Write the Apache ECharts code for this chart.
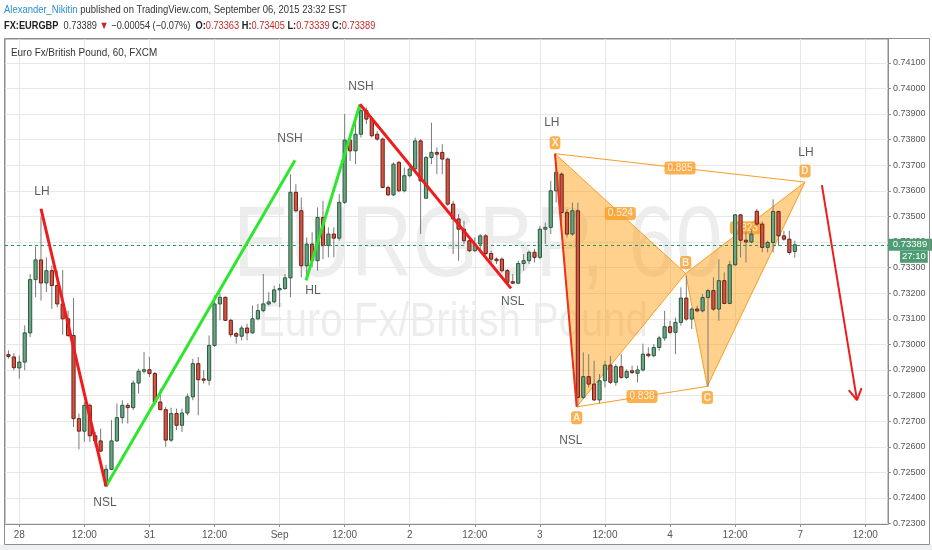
<!DOCTYPE html>
<html><head><meta charset="utf-8">
<script src="https://cdn.jsdelivr.net/npm/echarts@6/dist/echarts.min.js"></script>
<style>html,body{margin:0;padding:0;background:#fff}#c{width:932px;height:550px}</style>
</head><body><div id="c"></div>
<script>
// ---- candle data (hourly bars, index 0 = 27 Aug 22:00) ----
const opens = [
0.72960,0.72951,0.72908,0.72931,0.73045,0.73253,0.73330,0.73240,0.73288,0.73230,
0.73158,0.73100,0.73035,0.72710,0.72661,0.72762,0.72643,0.72623,0.72447,0.72512,
0.72623,0.72714,0.72762,0.72753,0.72849,0.72895,0.72901,0.72886,0.72775,0.72745,
0.72626,0.72730,0.72684,0.72732,0.72795,0.72925,0.72865,0.72860,0.72996,0.73158,
0.73184,0.73094,0.73042,0.73032,0.73064,0.73045,0.73100,0.73132,0.73158,0.73166,
0.73213,0.73218,0.73260,0.73594,0.73522,0.73307,0.73392,0.73327,0.73496,0.73386,
0.73431,0.73415,0.73555,0.73798,0.73756,0.73821,0.73913,0.73880,0.73821,0.73802,
0.73613,0.73584,0.73711,0.73600,0.73659,0.73685,0.73795,0.73571,0.73730,0.73750,
0.73750,0.73724,0.73548,0.73490,0.73450,0.73405,0.73366,0.73392,0.73424,0.73355,
0.73333,0.73333,0.73288,0.73245,0.73239,0.73316,0.73327,0.73360,0.73340,0.73450,
0.73457,0.73600,0.73665,0.73515,0.73431,0.73522,0.72793,0.72874,0.72845,0.72783,
0.72858,0.72919,0.72852,0.72913,0.72871,0.72897,0.72887,0.72900,0.72962,0.72956,
0.72988,0.73025,0.73069,0.73047,0.73086,0.73181,0.73099,0.73138,0.73131,0.73183,
0.73210,0.73138,0.73249,0.73160,0.73311,0.73506,0.73407,0.73400,0.73520,0.73470,
0.73379,0.73398,0.73519,0.73424,0.73411,0.73363];
const highs = [
0.72977,0.72966,0.72957,0.73074,0.73275,0.73382,0.73500,0.73340,0.73308,0.73288,
0.73291,0.73132,0.73181,0.72730,0.72775,0.72769,0.72658,0.72671,0.72529,0.72704,
0.72769,0.72782,0.72771,0.72860,0.72905,0.72970,0.72951,0.72892,0.72827,0.72756,
0.72753,0.72749,0.72749,0.72808,0.72944,0.72951,0.72899,0.73035,0.73191,0.73200,
0.73187,0.73100,0.73048,0.73074,0.73081,0.73152,0.73158,0.73275,0.73204,0.73230,
0.73236,0.73275,0.73665,0.73626,0.73574,0.73418,0.73438,0.73535,0.73561,0.73457,
0.73457,0.73587,0.73900,0.73802,0.73873,0.73936,0.73926,0.73887,0.73834,0.73808,
0.73620,0.73711,0.73717,0.73691,0.73698,0.73808,0.73802,0.73737,0.73866,0.73769,
0.73782,0.73730,0.73561,0.73509,0.73483,0.73418,0.73418,0.73431,0.73431,0.73366,
0.73340,0.73340,0.73294,0.73275,0.73327,0.73353,0.73366,0.73373,0.73463,0.73476,
0.73639,0.73704,0.73672,0.73528,0.73554,0.73554,0.72969,0.72962,0.72936,0.72884,
0.72936,0.72955,0.72923,0.72962,0.72903,0.72917,0.72917,0.73003,0.72988,0.73001,
0.73034,0.73131,0.73092,0.73105,0.73223,0.73268,0.73144,0.73151,0.73197,0.73216,
0.73262,0.73333,0.73281,0.73327,0.73509,0.73509,0.73440,0.73450,0.73529,0.73480,
0.73405,0.73567,0.73522,0.73444,0.73444,0.73405];
const lows = [
0.72944,0.72899,0.72866,0.72899,0.73029,0.73184,0.73171,0.73204,0.73139,0.73145,
0.73038,0.73029,0.72678,0.72590,0.72619,0.72619,0.72600,0.72581,0.72444,0.72509,
0.72619,0.72691,0.72691,0.72743,0.72808,0.72886,0.72873,0.72762,0.72743,0.72600,
0.72619,0.72665,0.72658,0.72723,0.72782,0.72723,0.72847,0.72840,0.72990,0.73094,
0.73091,0.73029,0.73003,0.73016,0.73016,0.73042,0.73094,0.73126,0.73152,0.73161,
0.73145,0.73213,0.73184,0.73515,0.73262,0.73255,0.73301,0.73288,0.73333,0.73340,
0.73340,0.73405,0.73548,0.73717,0.73704,0.73808,0.73860,0.73808,0.73795,0.73613,
0.73580,0.73580,0.73594,0.73594,0.73652,0.73678,0.73431,0.73574,0.73704,0.73665,
0.73665,0.73542,0.73353,0.73327,0.73392,0.73360,0.73360,0.73366,0.73340,0.73314,
0.73314,0.73281,0.73235,0.73235,0.73235,0.73288,0.73314,0.73320,0.73333,0.73392,
0.73431,0.73554,0.73480,0.73418,0.73424,0.72754,0.72787,0.72832,0.72780,0.72767,
0.72832,0.72845,0.72839,0.72865,0.72865,0.72884,0.72852,0.72894,0.72949,0.72949,
0.72975,0.73014,0.73040,0.72962,0.73073,0.73092,0.73060,0.73125,0.73125,0.72834,
0.73131,0.73092,0.73157,0.73157,0.73307,0.73340,0.73320,0.73395,0.73463,0.73360,
0.73359,0.73359,0.73385,0.73405,0.73350,0.73339];
const closes = [
0.72953,0.72909,0.72931,0.73045,0.73253,0.73330,0.73240,0.73288,0.73230,0.73158,
0.73100,0.73035,0.72710,0.72661,0.72762,0.72643,0.72623,0.72583,0.72512,0.72623,
0.72714,0.72762,0.72753,0.72849,0.72895,0.72901,0.72886,0.72775,0.72745,0.72626,
0.72730,0.72684,0.72732,0.72795,0.72925,0.72862,0.72860,0.72996,0.73158,0.73184,
0.73094,0.73038,0.73032,0.73064,0.73045,0.73100,0.73132,0.73158,0.73166,0.73213,
0.73218,0.73260,0.73594,0.73522,0.73307,0.73392,0.73327,0.73496,0.73386,0.73431,
0.73415,0.73555,0.73798,0.73756,0.73821,0.73913,0.73880,0.73815,0.73802,0.73613,
0.73584,0.73704,0.73600,0.73659,0.73685,0.73795,0.73639,0.73730,0.73750,0.73743,
0.73724,0.73548,0.73490,0.73450,0.73405,0.73366,0.73392,0.73424,0.73355,0.73333,
0.73327,0.73288,0.73242,0.73239,0.73316,0.73327,0.73360,0.73340,0.73450,0.73457,
0.73600,0.73672,0.73515,0.73431,0.73522,0.72793,0.72874,0.72845,0.72783,0.72858,
0.72919,0.72852,0.72913,0.72871,0.72894,0.72890,0.72900,0.72962,0.72956,0.72988,
0.73025,0.73069,0.73047,0.73086,0.73181,0.73099,0.73138,0.73131,0.73183,0.73210,
0.73138,0.73249,0.73160,0.73311,0.73506,0.73407,0.73400,0.73431,0.73470,0.73379,
0.73398,0.73519,0.73424,0.73411,0.73359,0.73389];

// ---- axes ----
const xTickBars = [2,14,26,38,50,62,74,86,98,110,122,134,146,158];
const xTickLabels = ['28','12:00','31','12:00','Sep','12:00','2','12:00','3','12:00','4','12:00','7','12:00'];
const yTicks = [0.723,0.724,0.725,0.726,0.727,0.728,0.729,0.730,0.731,0.732,0.733,0.734,0.735,0.736,0.737,0.738,0.739,0.740,0.741];
const lastPrice = 0.73389;
const countdown = '27:10';

// ---- drawings (bar index, price) ----
const redSwings = [
  [[6.0,0.73530],[17.99,0.72446]],
  [[64.83,0.73938],[92.67,0.73219]]
];
const greenSwings = [
  [[17.99,0.72446],[52.84,0.73719]],
  [[54.87,0.73250],[64.83,0.73938]]
];
const swingLabels = ['LH','NSL','NSH','HL','NSH','NSL','LH','NSL','LH'];
const swingLabelPos = [[6.19,0.73598],[17.8,0.72383],[51.92,0.73802],[56.16,0.73211],[65.0,0.74008],[93.0,0.73167],[100.2,0.73866],[103.7,0.72625],[147.07,0.73749]];
const patNames = ['X','A','B','C','D'];
const patPoints = [[100.78,0.73745],[104.78,0.72756],[124.88,0.73277],[128.87,0.72836],[146.88,0.73634]];
const patRatioLabels = ['0.524','0.838','0.823','0.885'];
const patRatioPairs = [[0,2],[1,3],[2,4],[0,4]];
const patRatioUnderCandles = [false,false,true,false];
const arrowLine = [[150.0,0.73622],[156.47,0.72782]];
const arrowHead = [[154.96,0.72821],[156.47,0.72782],[157.32,0.72829]];

const UP='#6ba583', UPB='#2a5a3e', DN='#d75442', DNB='#6b2118', WICK='#7a7a7c';
const ORANGE='#f99d26';
const FONT = "'Liberation Sans',Arial,sans-serif";

const candleData = opens.map((o,i)=>[i,o,highs[i],lows[i],closes[i]]);

function ratioSeries(under){
  return {type:'scatter', z: under?2:6, silent:true, symbolSize:1, itemStyle:{color:'rgba(0,0,0,0)'},
    data: patRatioLabels.map((t,k)=>{
      if (patRatioUnderCandles[k]!==under) return null;
      const a=patPoints[patRatioPairs[k][0]], b=patPoints[patRatioPairs[k][1]];
      return {name:t, value:[(a[0]+b[0])/2,(a[1]+b[1])/2]};
    }).filter(d=>d),
    label:{show:true, position:'inside', formatter:'{b}', color:'#fff', fontSize:10, fontFamily:FONT,
      backgroundColor:ORANGE, borderRadius:3, padding:[2,3,1,3]}
  };
}

const series = [];
// harmonic triangles
series.push({
  type:'custom', z:1, silent:true, clip:true,
  encode:{x:0,y:1},
  data:[[patPoints[0][0],patPoints[0][1],0],[patPoints[2][0],patPoints[2][1],1]],
  renderItem(params, api){
    const tri = params.dataIndex===0 ? [0,1,2] : [2,3,4];
    const pts = tri.map(k=>api.coord(patPoints[k]));
    return {type:'polygon', shape:{points:pts}, style:{fill:'rgba(255,152,0,0.45)', stroke:ORANGE, lineWidth:1}};
  }
});
series.push(ratioSeries(true));
// candles
series.push({
  type:'custom', z:3, silent:true, clip:true,
  encode:{x:0,y:[1,2,3,4]},
  data:candleData,
  renderItem(params, api){
    const i=api.value(0), o=api.value(1), h=api.value(2), l=api.value(3), c=api.value(4);
    const pO=api.coord([i,o]), pC=api.coord([i,c]), pH=api.coord([i,h]), pL=api.coord([i,l]);
    const up = c>=o;
    const cx = pO[0];
    const top=Math.min(pO[1],pC[1]), bot=Math.max(pO[1],pC[1]);
    return {type:'group', children:[
      {type:'line', shape:{x1:cx,y1:pH[1],x2:cx,y2:pL[1]}, style:{stroke:WICK,lineWidth:1}},
      {type:'rect', shape:{x:cx-1.6,y:top,width:3.2,height:Math.max(bot-top,1)}, style:{fill:up?UP:DN, stroke:up?UPB:DNB, lineWidth:1}}
    ]};
  }
});
// pattern lines XD and AC
[[0,4],[1,3]].forEach(p=>{
  series.push({type:'line', z:4, silent:true, symbol:'none', data:[patPoints[p[0]],patPoints[p[1]]], lineStyle:{color:ORANGE,width:1}});
});
// green swings
greenSwings.forEach(seg=>series.push({type:'line', z:5, silent:true, symbol:'none', data:seg, lineStyle:{color:'#2ee62e',width:3}}));
// red swings (first one also carries the last-price line)
redSwings.forEach((seg,k)=>series.push({type:'line', z:5, silent:true, symbol:'none', data:seg, lineStyle:{color:'#ee1c1c',width:3},
  markLine: k===0 ? {
    silent:true, symbol:['none','none'], animation:false, precision:5,
    data:[{yAxis:lastPrice}],
    lineStyle:{color:'#1f9a5c', type:[3,3], width:1},
    label:{show:true, position:'end', distance:0,
      formatter:'{e|}\n{p|'+lastPrice.toFixed(5)+'}\n{s|}{t|'+countdown+'}',
      rich:{
        e:{height:12, lineHeight:12},
        p:{backgroundColor:'#4e9c74', color:'#fff', fontSize:9.5, fontFamily:FONT, width:40, height:12, lineHeight:12, align:'center', padding:[0,2]},
        s:{width:12, height:12},
        t:{backgroundColor:'#4e9c74', color:'#fff', fontSize:9.5, fontFamily:FONT, height:12, lineHeight:12, padding:[0,2]}
      }}
  } : undefined
}));
// X -> A red line
series.push({type:'line', z:5, silent:true, symbol:'none', data:[patPoints[0],patPoints[1]], lineStyle:{color:'#f0301c',width:2}});
// arrow
series.push({type:'line', z:5, silent:true, symbol:'none', data:arrowLine, lineStyle:{color:'#ee1c1c',width:2}});
series.push({type:'line', z:5, silent:true, symbol:'none', data:arrowHead, lineStyle:{color:'#ee1c1c',width:2}});
series.push(ratioSeries(false));
// swing text labels
series.push({type:'scatter', z:6, silent:true, symbolSize:1, itemStyle:{color:'rgba(0,0,0,0)'},
  data: swingLabels.map((t,k)=>({name:t, value:swingLabelPos[k]})),
  label:{show:true, position:'inside', formatter:'{b}', color:'#333', fontSize:12, fontFamily:FONT}
});
// pattern letters
series.push({type:'scatter', z:7, silent:true, symbolSize:1, itemStyle:{color:'rgba(0,0,0,0)'},
  data: patNames.map((t,k)=>({name:t, value:patPoints[k], label:{position: (k%2===0)?'top':'bottom'}})),
  label:{show:true, distance:4, formatter:'{b}', color:'#fff', fontSize:10, fontWeight:'bold', fontFamily:FONT,
    backgroundColor:ORANGE, borderRadius:3, padding:[2,2,1,2]}
});

const chart = echarts.init(document.getElementById('c'), null, {renderer:'canvas'});
chart.setOption({
  animation:false,
  backgroundColor:'#ffffff',
  grid:{left:5, right:44, top:39, bottom:26, show:true, borderColor:'#8d8d8d', borderWidth:1, backgroundColor:'transparent'},
  xAxis:{
    type:'value', min:-0.636, max:162.19,
    axisLine:{show:true, onZero:false, lineStyle:{color:'#8d8d8d'}},
    axisTick:{show:true, customValues:xTickBars, length:3, lineStyle:{color:'#8d8d8d'}},
    axisLabel:{show:true, customValues:xTickBars, color:'#555', fontSize:10, fontFamily:FONT, margin:6,
      formatter:v=>xTickLabels[xTickBars.indexOf(v)]},
    splitLine:{show:true, lineStyle:{color:'#e8e8e8'}}
  },
  yAxis:{
    type:'value', position:'right', min:0.722984, max:0.74193, scale:true,
    axisLine:{show:true, onZero:false, lineStyle:{color:'#8d8d8d'}},
    axisTick:{show:true, customValues:yTicks, length:3, lineStyle:{color:'#8d8d8d'}},
    axisLabel:{show:true, customValues:yTicks, color:'#555', fontSize:9, fontFamily:FONT, margin:5,
      formatter:v=>v.toFixed(5)},
    splitLine:{show:true, lineStyle:{color:'#e8e8e8'}}
  },
  graphic:[
    {type:'text', x:233, y:248, z:0, silent:true, scaleX:0.85,
      style:{text:'EURGBP, 60', fontSize:100, fontFamily:FONT, fill:'rgba(0,0,0,0.07)', verticalAlign:'middle'}},
    {type:'text', x:258, y:323, z:0, silent:true, scaleX:0.835,
      style:{text:'Euro Fx/British Pound', fontSize:48, fontFamily:FONT, fill:'rgba(0,0,0,0.07)', verticalAlign:'middle'}},
    {type:'rect', z:0, silent:true, shape:{x:0,y:544.5,width:932,height:6}, style:{fill:'#eef0f2'}},
    {type:'rect', z:10, silent:true, shape:{x:4.5,y:38.5,width:925,height:506}, style:{fill:'none', stroke:'#8d8d8d', lineWidth:1}},
    {type:'text', x:4, y:10, z:10, silent:true, scaleX:0.86,
      style:{text:'{a|Alexander_Nikitin}{n| published on TradingView.com, September 06, 2015 23:32 EST}', verticalAlign:'middle',
        rich:{a:{fill:'#2a8fd4', fontSize:11, fontFamily:FONT}, n:{fill:'#333', fontSize:11, fontFamily:FONT}}}},
    {type:'text', x:4, y:25.5, z:10, silent:true, scaleX:0.84,
      style:{text:'{b|FX:EURGBP}{n|  0.73389 }{r|▼}{n| −0.00054 (−0.07%)  }{b|O:}{r|0.73363}{b| H:}{r|0.73405}{b| L:}{r|0.73339}{b| C:}{r|0.73389}', verticalAlign:'middle',
        rich:{b:{fill:'#222', fontSize:11, fontWeight:'bold', fontFamily:FONT}, n:{fill:'#333', fontSize:11, fontFamily:FONT}, r:{fill:'#c62828', fontSize:11, fontFamily:FONT}}}},
    {type:'text', x:11, y:53, z:10, silent:true, scaleX:0.86,
      style:{text:'Euro Fx/British Pound, 60, FXCM', fill:'#333', fontSize:11.5, fontFamily:FONT, verticalAlign:'middle'}}
  ],
  series: series
});
</script></body></html>
